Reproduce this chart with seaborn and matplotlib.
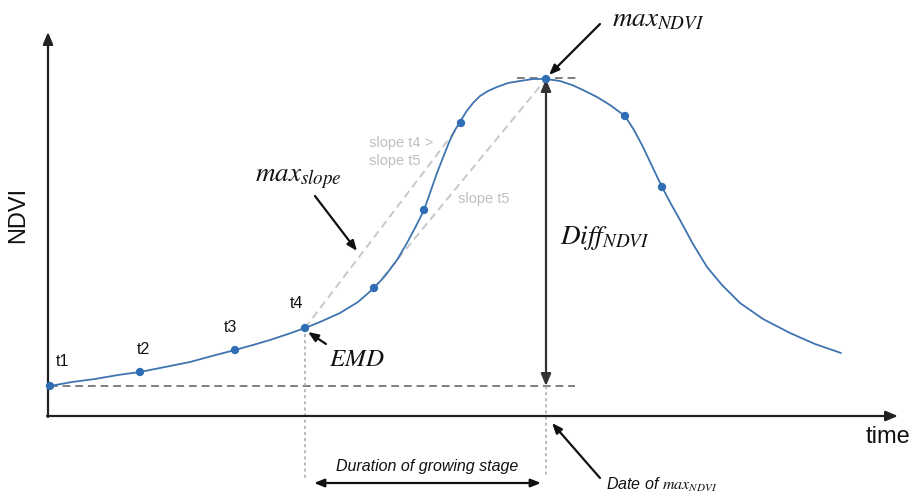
import matplotlib
matplotlib.use("Agg")
import matplotlib.pyplot as plt
import seaborn as sns
import pandas as pd

# ---- data (schematic coordinates: x = time, y = NDVI, y axis inverted) ----
curve_x = [50, 72, 95, 118, 140, 165, 190, 212, 235, 253, 270, 288, 305, 320, 340, 358, 374,
           385, 397, 407, 416, 424, 430, 437, 444, 450, 455, 460, 466, 473, 480, 488, 497, 508,
           520, 533, 546, 560, 572, 583, 597, 610, 625, 634, 643, 652, 662, 671, 680, 693, 707,
           722, 740, 763, 790, 815, 841]
curve_y = [386, 382, 379, 375, 372, 367, 362, 356, 350, 345, 340, 334, 328, 322, 313, 302, 288,
           276, 260, 243, 226, 210, 193, 173, 155, 140, 130, 122, 112, 103, 96, 91, 87, 83,
           81, 79, 79, 81, 85, 90, 97, 105, 116, 130, 147, 166, 187, 204, 220, 244, 267,
           285, 303, 319, 333, 344, 353]
obs_x = [50, 140, 235, 305, 374, 424, 461, 546, 625, 662]
obs_y = [386, 372, 350, 328, 288, 210, 123, 79, 116, 187]
obs_labels = ["t1", "t2", "t3", "t4"]
base_ndvi = 386
max_ndvi = 79
date_emd = 305
date_max = 546

sns.set_theme(style="white")
plt.rcParams["font.family"] = ["Liberation Sans", "DejaVu Sans"]
plt.rcParams["mathtext.fontset"] = "stix"

fig = plt.figure(figsize=(9.12, 4.93), dpi=100)
ax = fig.add_axes([0, 0, 1, 1])

# axes with arrows
ax.annotate("", xy=(48, 32), xytext=(48, 417),
            arrowprops=dict(arrowstyle="-|>,head_length=0.6,head_width=0.25", color="#222222", lw=1.6, shrinkA=0, shrinkB=0))
ax.annotate("", xy=(898, 416), xytext=(47, 416),
            arrowprops=dict(arrowstyle="-|>,head_length=0.6,head_width=0.25", color="#222222", lw=1.6, shrinkA=0, shrinkB=0))

# baseline / max dashed
ax.plot([obs_x[0], 575], [base_ndvi, base_ndvi], color="#7f7f7f", lw=1.4, linestyle=(0, (4, 2.5)))
ax.plot([517, 577], [max_ndvi - 1, max_ndvi - 1], color="#7f7f7f", lw=1.4, linestyle=(0, (4, 2.5)))

# dotted verticals
ax.plot([date_emd, date_emd], [obs_y[3], 480], color="#a6a6a6", lw=1.1, linestyle=(0, (2, 2)))
ax.plot([date_max, date_max], [base_ndvi, 476], color="#a6a6a6", lw=1.1, linestyle=(0, (2, 2)))

# slope lines
ax.plot([obs_x[3], obs_x[6]], [obs_y[3], obs_y[6]], color="#c8c8c8", lw=1.4, linestyle=(0, (4, 2.5)))
ax.plot([obs_x[4], obs_x[7]], [obs_y[4], obs_y[7]], color="#c8c8c8", lw=1.4, linestyle=(0, (4, 2.5)))

# Diff arrow
ax.annotate("", xy=(date_max, max_ndvi), xytext=(date_max, base_ndvi),
            arrowprops=dict(arrowstyle="<|-|>,head_length=0.6,head_width=0.25", color="#333333", lw=1.6,
                            shrinkA=0, shrinkB=0))

# curve & points
df_curve = pd.DataFrame({"time": curve_x, "ndvi": curve_y})
sns.lineplot(data=df_curve, x="time", y="ndvi", ax=ax, color="#3f74b0", lw=1.3, sort=False)
df_obs = pd.DataFrame({"time": obs_x, "ndvi": obs_y})
sns.scatterplot(data=df_obs, x="time", y="ndvi", ax=ax, color="#2f6db5", s=36, edgecolor="none", zorder=5)
ax.set_xlim(0, 912)
ax.set_ylim(493, 0)
ax.axis("off")

# t labels
for (tx, ty, lab) in zip([62, 143, 230, 297], [362, 349, 327, 304], obs_labels):
    ax.text(tx, ty, lab, fontsize=11.5, ha="center", va="center", color="#111111")

# axis labels
ax.text(18, 215, "NDVI", fontsize=17, rotation=90, ha="center", va="center", color="#111111")
ax.text(888, 437, "time", fontsize=17, ha="center", va="center", color="#111111")

# math annotations
ax.text(658, 19, r"$max_{NDVI}$", fontsize=19.5, ha="center", va="center", color="#111111")
ax.annotate("", xy=(549, 75), xytext=(600, 24),
            arrowprops=dict(arrowstyle="-|>,head_length=0.5,head_width=0.2", color="#111111", lw=1.6,
                            shrinkA=0, shrinkB=0))
ax.text(298, 178, r"$max_{slope}$", fontsize=19.5, ha="center", va="center", color="#111111")
ax.annotate("", xy=(357, 251), xytext=(315, 196),
            arrowprops=dict(arrowstyle="-|>,head_length=0.5,head_width=0.2", color="#111111", lw=1.6,
                            shrinkA=0, shrinkB=0))
ax.text(357, 359, r"$EMD$", fontsize=18, ha="center", va="center", color="#111111")
ax.annotate("", xy=(308, 332), xytext=(326, 344),
            arrowprops=dict(arrowstyle="-|>,head_length=0.5,head_width=0.2", color="#111111", lw=1.6,
                            shrinkA=0, shrinkB=0))
ax.text(605, 238, r"$Diff_{NDVI}$", fontsize=19.5, ha="center", va="center", color="#111111")

# slope labels
ax.text(369, 143, "slope t4 >", fontsize=10.5, ha="left", va="center", color="#bfbfbf")
ax.text(369, 161, "slope t5", fontsize=10.5, ha="left", va="center", color="#bfbfbf")
ax.text(458, 199, "slope t5", fontsize=10.5, ha="left", va="center", color="#bfbfbf")

# duration arrow
ax.annotate("", xy=(541, 483), xytext=(314, 483),
            arrowprops=dict(arrowstyle="<|-|>,head_length=0.5,head_width=0.2", color="#111111", lw=1.6,
                            shrinkA=0, shrinkB=0))
ax.text(427, 467, "Duration of growing stage", fontsize=11.5, style="italic", ha="center", va="center",
        color="#111111")

# date of max
ax.annotate("", xy=(552, 423), xytext=(600, 478),
            arrowprops=dict(arrowstyle="-|>,head_length=0.5,head_width=0.2", color="#111111", lw=1.6,
                            shrinkA=0, shrinkB=0))
ax.text(606, 485, r"Date of $max_{NDVI}$", fontsize=11.5, style="italic", ha="left", va="center",
        color="#111111")

fig.savefig("out.png", dpi=100)
